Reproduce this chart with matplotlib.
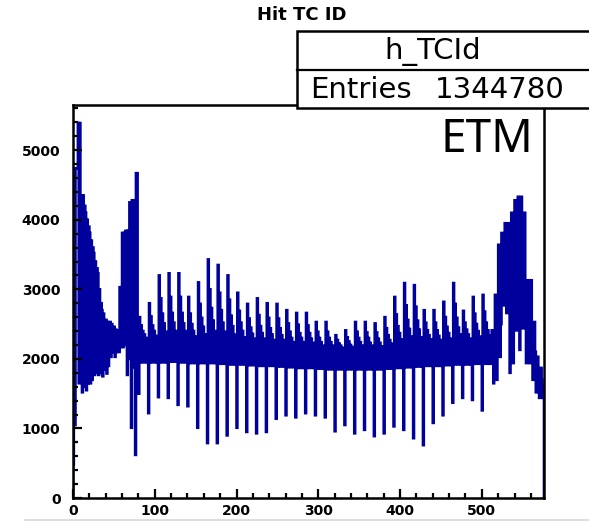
import numpy as np
import matplotlib
matplotlib.use("Agg")
import matplotlib.pyplot as plt
from matplotlib.patches import Rectangle
from matplotlib.lines import Line2D
from matplotlib.ticker import MultipleLocator

title = "Hit TC ID"
hist_name = "h_TCId"
entries_label = "Entries"
entries_value = "1344780"
tag = "ETM"
x_lo, x_hi = 0, 576
y_max = 5650

# forward endcap: 16 groups x 5 trigger cells (TC 0-79)
fwd_groups = [
    [480, 1050, 1050, 4740, 4740],
    [4740, 5390, 1650, 5390, 1700],
    [4350, 1520, 4350, 1600, 4200],
    [4100, 1550, 4000, 1650, 3900],
    [3810, 1650, 3700, 1700, 3600],
    [3520, 1770, 3400, 1800, 3300],
    [3230, 1770, 3000, 1800, 2800],
    [2700, 1750, 2650, 1850, 2560],
    [2560, 1790, 2530, 1900, 2500],
    [2530, 2030, 2500, 2100, 2460],
    [2460, 2030, 2420, 2100, 2410],
    [2410, 2100, 3030, 2170, 3030],
    [3810, 2170, 3810, 2200, 3840],
    [3840, 1770, 3840, 2000, 4250],
    [4250, 1010, 4280, 1880, 4280],
    [4280, 620, 4670, 4670, 1500],
]

# barrel: 36 phi sectors x 12 trigger cells (TC 80-511)
barrel_groups = [
    [1500, 2600, 1950, 2480, 1990, 2400, 1950, 2350, 1990, 2300, 1950, 2270],
    [1220, 2800, 1950, 2610, 1990, 2480, 1950, 2400, 1990, 2330, 1950, 2280],
    [1450, 3200, 1950, 2870, 1990, 2650, 1950, 2510, 1990, 2390, 1950, 2300],
    [1440, 3230, 1960, 2890, 2000, 2660, 1960, 2520, 2000, 2400, 1960, 2300],
    [1340, 3230, 1950, 2890, 1990, 2660, 1950, 2510, 1990, 2400, 1950, 2300],
    [1320, 2890, 1940, 2650, 1980, 2500, 1940, 2400, 1980, 2320, 1940, 2250],
    [1010, 3100, 1940, 2790, 1980, 2590, 1940, 2460, 1980, 2350, 1940, 2260],
    [790, 3430, 1940, 3000, 1980, 2730, 1940, 2550, 1980, 2400, 1940, 2280],
    [790, 3350, 1930, 2950, 1970, 2700, 1930, 2520, 1970, 2390, 1930, 2270],
    [900, 3200, 1920, 2850, 1960, 2620, 1920, 2470, 1960, 2350, 1920, 2250],
    [1010, 2950, 1920, 2690, 1960, 2520, 1920, 2400, 1960, 2310, 1920, 2240],
    [950, 2790, 1910, 2580, 1950, 2450, 1910, 2360, 1950, 2290, 1910, 2230],
    [930, 2870, 1900, 2630, 1940, 2470, 1900, 2370, 1940, 2290, 1900, 2210],
    [950, 2800, 1900, 2590, 1940, 2440, 1900, 2350, 1940, 2270, 1900, 2210],
    [1140, 2790, 1890, 2580, 1930, 2440, 1890, 2340, 1930, 2270, 1890, 2210],
    [1190, 2700, 1880, 2510, 1920, 2390, 1880, 2300, 1920, 2240, 1880, 2190],
    [1160, 2660, 1870, 2490, 1910, 2370, 1870, 2300, 1910, 2240, 1870, 2180],
    [1220, 2660, 1870, 2480, 1910, 2370, 1870, 2290, 1910, 2230, 1870, 2180],
    [1190, 2530, 1860, 2390, 1900, 2300, 1860, 2240, 1900, 2190, 1860, 2150],
    [1160, 2530, 1850, 2390, 1890, 2300, 1850, 2240, 1890, 2190, 1850, 2150],
    [960, 2340, 1850, 2270, 1890, 2220, 1850, 2190, 1890, 2160, 1850, 2140],
    [1050, 2410, 1850, 2310, 1890, 2250, 1850, 2200, 1890, 2170, 1850, 2140],
    [930, 2530, 1850, 2390, 1890, 2300, 1850, 2240, 1890, 2190, 1850, 2150],
    [980, 2530, 1850, 2380, 1890, 2300, 1850, 2230, 1890, 2190, 1850, 2150],
    [890, 2510, 1850, 2380, 1890, 2290, 1850, 2230, 1890, 2180, 1850, 2150],
    [930, 2600, 1860, 2440, 1900, 2340, 1860, 2270, 1900, 2220, 1860, 2170],
    [1030, 2890, 1870, 2640, 1910, 2470, 1870, 2370, 1910, 2280, 1870, 2200],
    [980, 3090, 1880, 2770, 1920, 2560, 1880, 2430, 1920, 2320, 1880, 2230],
    [860, 3060, 1890, 2750, 1930, 2550, 1890, 2420, 1930, 2310, 1890, 2220],
    [760, 2700, 1900, 2520, 1940, 2410, 1900, 2340, 1940, 2280, 1900, 2220],
    [1080, 2700, 1900, 2520, 1940, 2410, 1900, 2330, 1940, 2270, 1900, 2220],
    [1190, 2820, 1910, 2600, 1950, 2460, 1910, 2370, 1950, 2290, 1910, 2230],
    [1370, 3090, 1920, 2790, 1960, 2590, 1920, 2450, 1960, 2350, 1920, 2260],
    [1440, 2690, 1920, 2520, 1960, 2420, 1920, 2350, 1960, 2290, 1920, 2240],
    [1410, 2890, 1930, 2650, 1970, 2500, 1930, 2400, 1970, 2320, 1930, 2250],
    [1260, 2920, 1930, 2680, 1970, 2520, 1930, 2410, 1970, 2330, 1930, 2260],
]

# backward endcap: 16 groups x 4 trigger cells (TC 512-575)
bwd_groups = [
    [2410, 2100, 1650, 1900],
    [2920, 2400, 1700, 2100],
    [3640, 2900, 2030, 2500],
    [3810, 3300, 2770, 3000],
    [3950, 3400, 2660, 3000],
    [3950, 3000, 1800, 2600],
    [4100, 3100, 1940, 2700],
    [4280, 3500, 2410, 3000],
    [4330, 3400, 2130, 2900],
    [4330, 3500, 2440, 3000],
    [4100, 3100, 1940, 2600],
    [3130, 2600, 1940, 2300],
    [3130, 2500, 1700, 2200],
    [2530, 2100, 1520, 1900],
    [2030, 1800, 1440, 1700],
    [1870, 1700, 1440, 1600],
]

counts = np.array([v for g in fwd_groups + barrel_groups + bwd_groups for v in g], dtype=float)
edges = np.arange(len(counts) + 1, dtype=float)

W, H = 589, 522
fig = plt.figure(figsize=(W / 100, H / 100), dpi=100)
L, R, T, B = 73, 544, 105, 498
ax = fig.add_axes([L / W, 1 - B / H, (R - L) / W, (B - T) / H])
ax.stairs(counts, edges, baseline=0, fill=False, color="#00009c", lw=1.9)
ax.set_xlim(x_lo, x_hi)
ax.set_ylim(0, y_max)
ax.xaxis.set_major_locator(MultipleLocator(100))
ax.xaxis.set_minor_locator(MultipleLocator(20))
ax.yaxis.set_major_locator(MultipleLocator(1000))
ax.yaxis.set_minor_locator(MultipleLocator(200))
ax.tick_params(which="both", direction="in", top=False, right=False, width=1.6,
               colors="black", labelsize=10)
ax.tick_params(which="major", length=6.5)
ax.tick_params(which="minor", length=3.6)
ax.tick_params(axis="y", pad=9)
ax.tick_params(axis="x", pad=4)
for lab in ax.get_xticklabels() + ax.get_yticklabels():
    lab.set_fontweight("bold")
for s in ax.spines.values():
    s.set_linewidth(1.8)

# title
fig.text(302 / W, 1 - 15 / H, title, ha="center", va="center", fontsize=13,
         fontweight="bold")

# stats box
box = Rectangle((297 / W, 1 - 108 / H), (600 - 297) / W, (108 - 31) / H,
                transform=fig.transFigure, facecolor="white", edgecolor="black",
                lw=1.8, zorder=5, clip_on=False)
fig.add_artist(box)
fig.add_artist(Line2D([297 / W, 1.0], [1 - 70 / H, 1 - 70 / H],
                      transform=fig.transFigure, color="black", lw=1.6, zorder=6))
fig.text(433 / W, 1 - 51 / H, hist_name, ha="center", va="center", fontsize=21, zorder=7)
fig.text(310 / W, 1 - 90 / H, entries_label, ha="left", va="center", fontsize=21, zorder=7)
fig.text(565 / W, 1 - 90 / H, entries_value, ha="right", va="center", fontsize=21, zorder=7)

# tag
fig.text(440 / W, 1 - 140 / H, tag, ha="left", va="center", fontsize=33,
         family="Noto Sans", zorder=7)

# faint line at the bottom of the screenshot
fig.add_artist(Line2D([25 / W, 1.0], [1 - 520 / H, 1 - 520 / H],
                      transform=fig.transFigure, color="#d8d8d8", lw=1.2))

fig.savefig("out.png", dpi=100)
